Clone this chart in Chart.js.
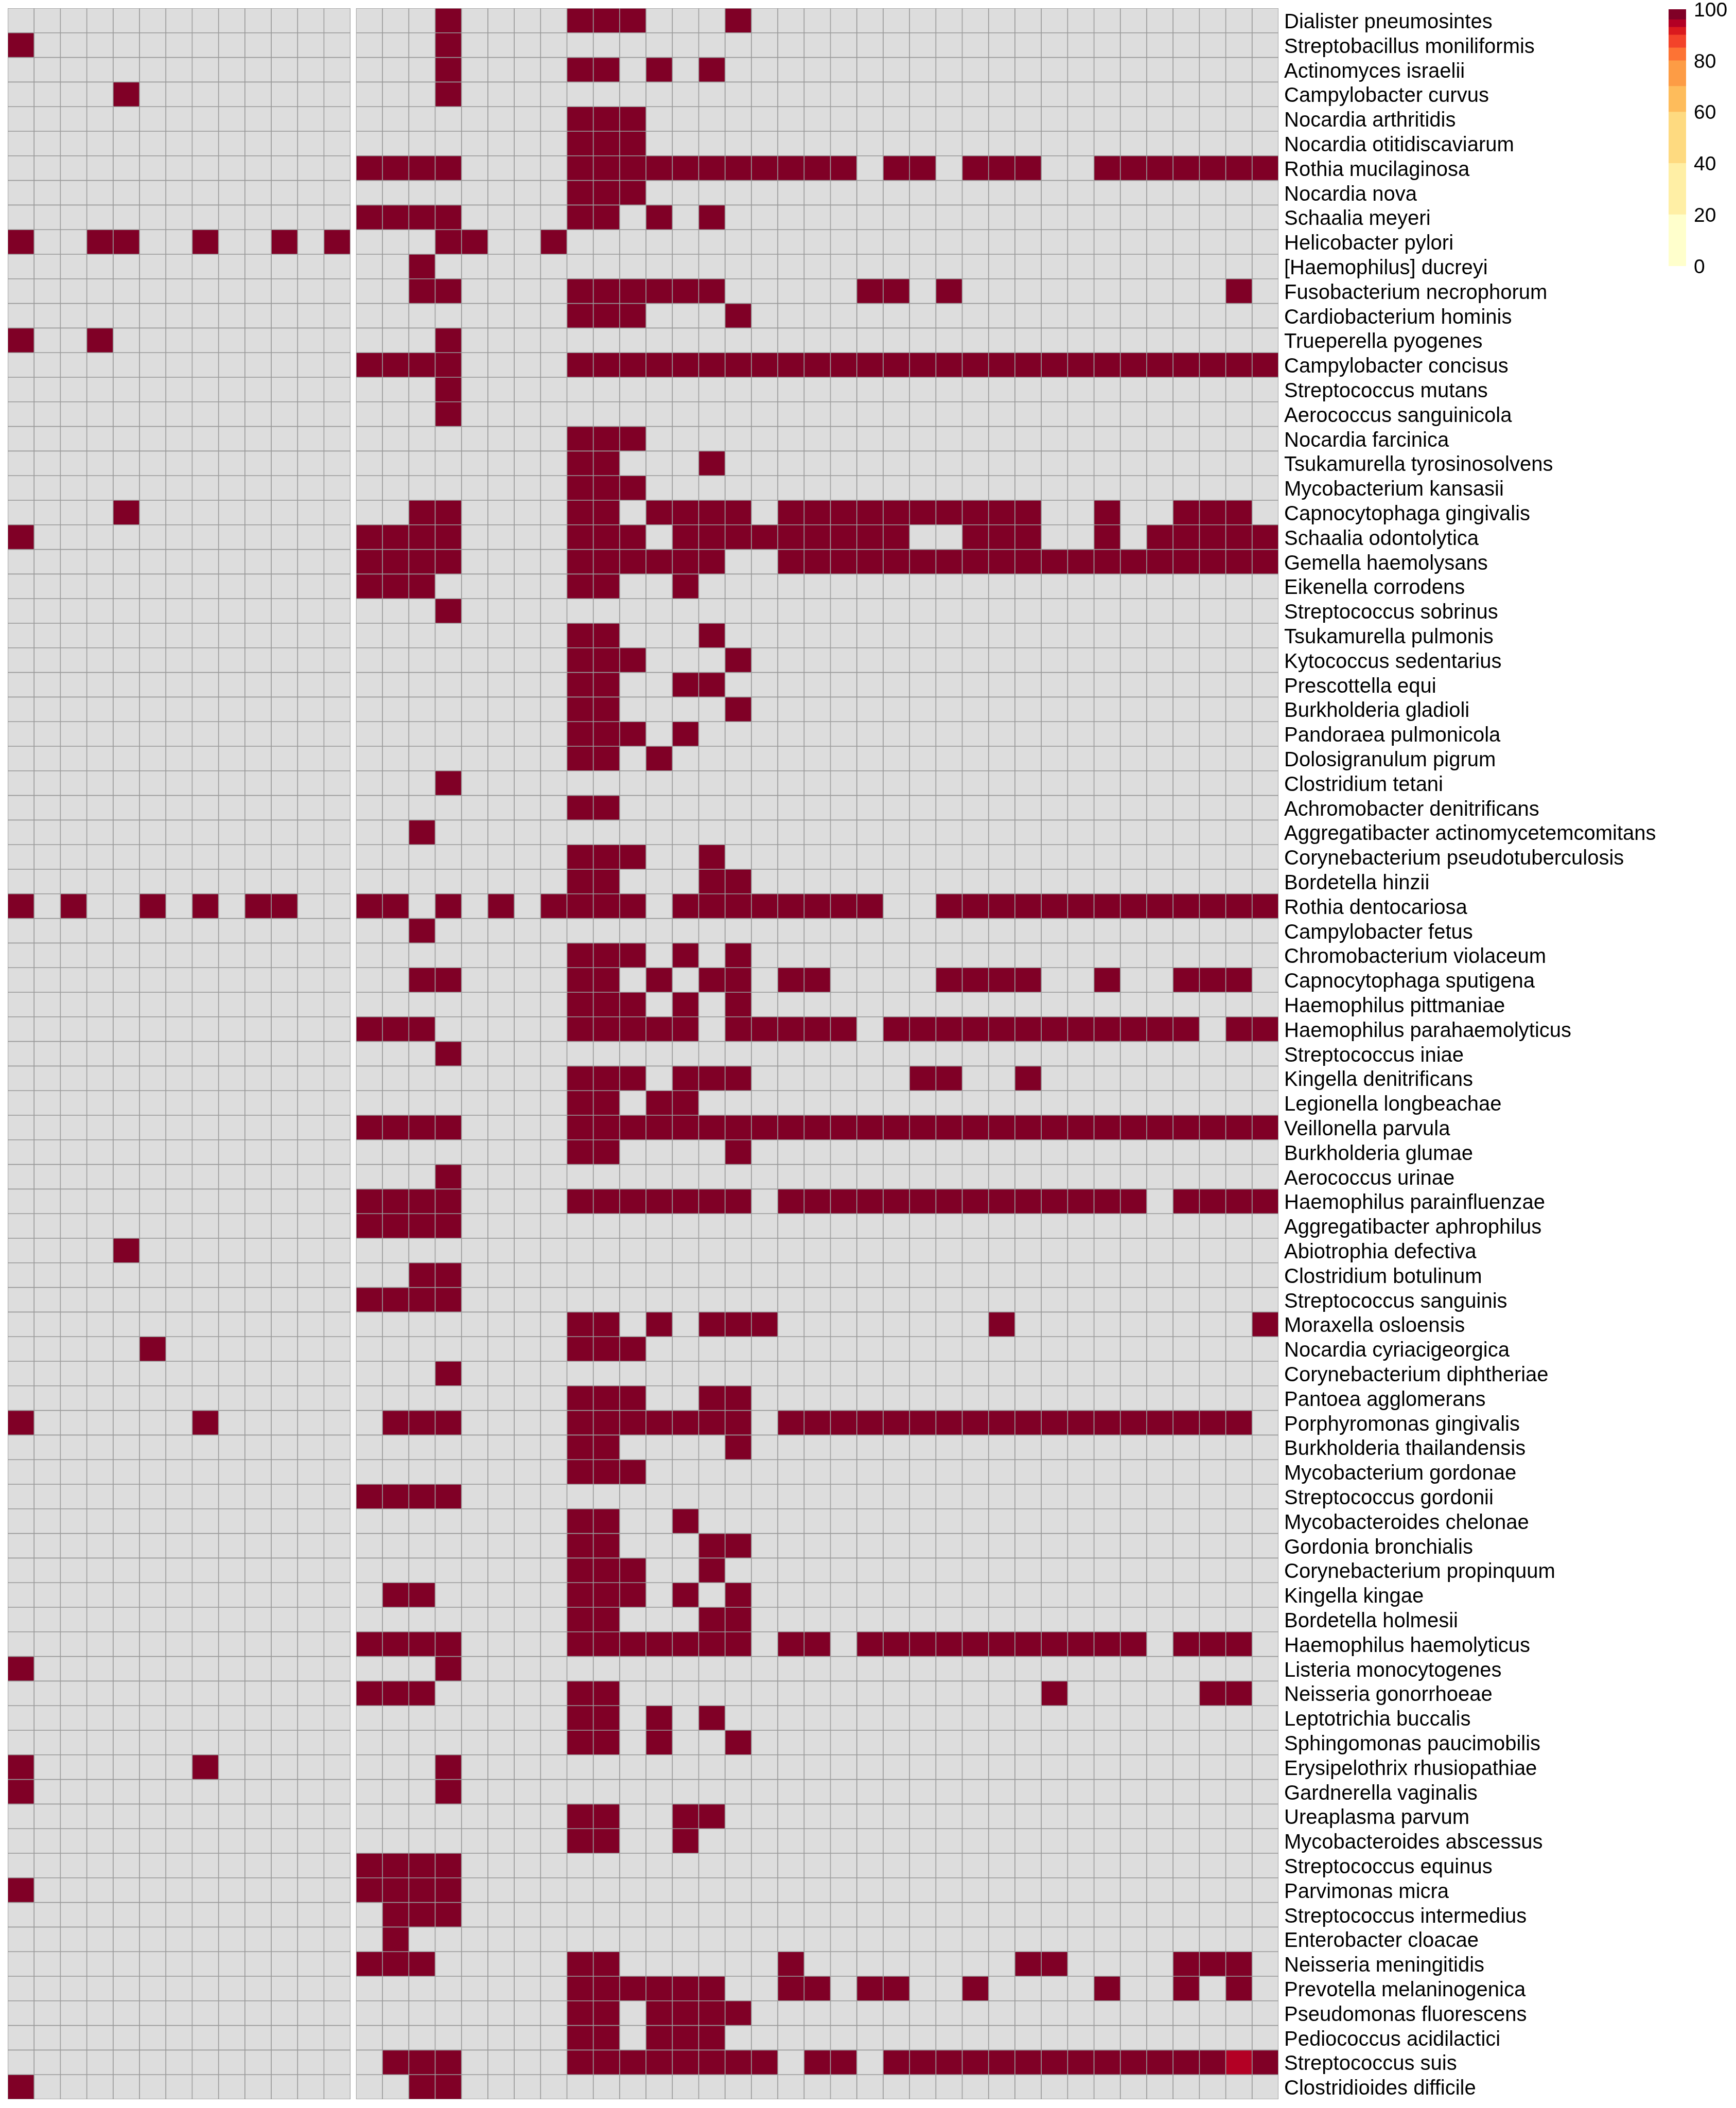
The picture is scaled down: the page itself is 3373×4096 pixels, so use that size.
<!DOCTYPE html>
<html>
<head>
<meta charset="utf-8">
<script src="https://cdn.jsdelivr.net/npm/chart.js@4.4.1/dist/chart.umd.min.js"></script>
<style>
  html, body { margin: 0; padding: 0; background: #ffffff; overflow: hidden; }
  #heat { position: absolute; left: 0; top: 0; }
  #scale { position: absolute; left: 3242px; top: -20px; }
</style>
</head>
<body>
<canvas id="heat" width="3373" height="4096"></canvas>
<canvas id="scale" width="131" height="580"></canvas>
<script>
// ---------------- DATA ----------------
const X = 100, R = 95, _ = null;

const speciesNames = [
  "Dialister pneumosintes", "Streptobacillus moniliformis", "Actinomyces israelii", "Campylobacter curvus",
  "Nocardia arthritidis", "Nocardia otitidiscaviarum", "Rothia mucilaginosa", "Nocardia nova",
  "Schaalia meyeri", "Helicobacter pylori", "[Haemophilus] ducreyi", "Fusobacterium necrophorum",
  "Cardiobacterium hominis", "Trueperella pyogenes", "Campylobacter concisus", "Streptococcus mutans",
  "Aerococcus sanguinicola", "Nocardia farcinica", "Tsukamurella tyrosinosolvens", "Mycobacterium kansasii",
  "Capnocytophaga gingivalis", "Schaalia odontolytica", "Gemella haemolysans", "Eikenella corrodens",
  "Streptococcus sobrinus", "Tsukamurella pulmonis", "Kytococcus sedentarius", "Prescottella equi",
  "Burkholderia gladioli", "Pandoraea pulmonicola", "Dolosigranulum pigrum", "Clostridium tetani",
  "Achromobacter denitrificans", "Aggregatibacter actinomycetemcomitans", "Corynebacterium pseudotuberculosis", "Bordetella hinzii",
  "Rothia dentocariosa", "Campylobacter fetus", "Chromobacterium violaceum", "Capnocytophaga sputigena",
  "Haemophilus pittmaniae", "Haemophilus parahaemolyticus", "Streptococcus iniae", "Kingella denitrificans",
  "Legionella longbeachae", "Veillonella parvula", "Burkholderia glumae", "Aerococcus urinae",
  "Haemophilus parainfluenzae", "Aggregatibacter aphrophilus", "Abiotrophia defectiva", "Clostridium botulinum",
  "Streptococcus sanguinis", "Moraxella osloensis", "Nocardia cyriacigeorgica", "Corynebacterium diphtheriae",
  "Pantoea agglomerans", "Porphyromonas gingivalis", "Burkholderia thailandensis", "Mycobacterium gordonae",
  "Streptococcus gordonii", "Mycobacteroides chelonae", "Gordonia bronchialis", "Corynebacterium propinquum",
  "Kingella kingae", "Bordetella holmesii", "Haemophilus haemolyticus", "Listeria monocytogenes",
  "Neisseria gonorrhoeae", "Leptotrichia buccalis", "Sphingomonas paucimobilis", "Erysipelothrix rhusiopathiae",
  "Gardnerella vaginalis", "Ureaplasma parvum", "Mycobacteroides abscessus", "Streptococcus equinus",
  "Parvimonas micra", "Streptococcus intermedius", "Enterobacter cloacae", "Neisseria meningitidis",
  "Prevotella melaninogenica", "Pseudomonas fluorescens", "Pediococcus acidilactici", "Streptococcus suis",
  "Clostridioides difficile"
];

// Left block: 13 columns per row
const leftPanel = [
  [_,_,_,_,_, _,_,_,_,_, _,_,_], // Dialister pneumosintes
  [X,_,_,_,_, _,_,_,_,_, _,_,_], // Streptobacillus moniliformis
  [_,_,_,_,_, _,_,_,_,_, _,_,_], // Actinomyces israelii
  [_,_,_,_,X, _,_,_,_,_, _,_,_], // Campylobacter curvus
  [_,_,_,_,_, _,_,_,_,_, _,_,_], // Nocardia arthritidis
  [_,_,_,_,_, _,_,_,_,_, _,_,_], // Nocardia otitidiscaviarum
  [_,_,_,_,_, _,_,_,_,_, _,_,_], // Rothia mucilaginosa
  [_,_,_,_,_, _,_,_,_,_, _,_,_], // Nocardia nova
  [_,_,_,_,_, _,_,_,_,_, _,_,_], // Schaalia meyeri
  [X,_,_,X,X, _,_,X,_,_, X,_,X], // Helicobacter pylori
  [_,_,_,_,_, _,_,_,_,_, _,_,_], // [Haemophilus] ducreyi
  [_,_,_,_,_, _,_,_,_,_, _,_,_], // Fusobacterium necrophorum
  [_,_,_,_,_, _,_,_,_,_, _,_,_], // Cardiobacterium hominis
  [X,_,_,X,_, _,_,_,_,_, _,_,_], // Trueperella pyogenes
  [_,_,_,_,_, _,_,_,_,_, _,_,_], // Campylobacter concisus
  [_,_,_,_,_, _,_,_,_,_, _,_,_], // Streptococcus mutans
  [_,_,_,_,_, _,_,_,_,_, _,_,_], // Aerococcus sanguinicola
  [_,_,_,_,_, _,_,_,_,_, _,_,_], // Nocardia farcinica
  [_,_,_,_,_, _,_,_,_,_, _,_,_], // Tsukamurella tyrosinosolvens
  [_,_,_,_,_, _,_,_,_,_, _,_,_], // Mycobacterium kansasii
  [_,_,_,_,X, _,_,_,_,_, _,_,_], // Capnocytophaga gingivalis
  [X,_,_,_,_, _,_,_,_,_, _,_,_], // Schaalia odontolytica
  [_,_,_,_,_, _,_,_,_,_, _,_,_], // Gemella haemolysans
  [_,_,_,_,_, _,_,_,_,_, _,_,_], // Eikenella corrodens
  [_,_,_,_,_, _,_,_,_,_, _,_,_], // Streptococcus sobrinus
  [_,_,_,_,_, _,_,_,_,_, _,_,_], // Tsukamurella pulmonis
  [_,_,_,_,_, _,_,_,_,_, _,_,_], // Kytococcus sedentarius
  [_,_,_,_,_, _,_,_,_,_, _,_,_], // Prescottella equi
  [_,_,_,_,_, _,_,_,_,_, _,_,_], // Burkholderia gladioli
  [_,_,_,_,_, _,_,_,_,_, _,_,_], // Pandoraea pulmonicola
  [_,_,_,_,_, _,_,_,_,_, _,_,_], // Dolosigranulum pigrum
  [_,_,_,_,_, _,_,_,_,_, _,_,_], // Clostridium tetani
  [_,_,_,_,_, _,_,_,_,_, _,_,_], // Achromobacter denitrificans
  [_,_,_,_,_, _,_,_,_,_, _,_,_], // Aggregatibacter actinomycetemcomitans
  [_,_,_,_,_, _,_,_,_,_, _,_,_], // Corynebacterium pseudotuberculosis
  [_,_,_,_,_, _,_,_,_,_, _,_,_], // Bordetella hinzii
  [X,_,X,_,_, X,_,X,_,X, X,_,_], // Rothia dentocariosa
  [_,_,_,_,_, _,_,_,_,_, _,_,_], // Campylobacter fetus
  [_,_,_,_,_, _,_,_,_,_, _,_,_], // Chromobacterium violaceum
  [_,_,_,_,_, _,_,_,_,_, _,_,_], // Capnocytophaga sputigena
  [_,_,_,_,_, _,_,_,_,_, _,_,_], // Haemophilus pittmaniae
  [_,_,_,_,_, _,_,_,_,_, _,_,_], // Haemophilus parahaemolyticus
  [_,_,_,_,_, _,_,_,_,_, _,_,_], // Streptococcus iniae
  [_,_,_,_,_, _,_,_,_,_, _,_,_], // Kingella denitrificans
  [_,_,_,_,_, _,_,_,_,_, _,_,_], // Legionella longbeachae
  [_,_,_,_,_, _,_,_,_,_, _,_,_], // Veillonella parvula
  [_,_,_,_,_, _,_,_,_,_, _,_,_], // Burkholderia glumae
  [_,_,_,_,_, _,_,_,_,_, _,_,_], // Aerococcus urinae
  [_,_,_,_,_, _,_,_,_,_, _,_,_], // Haemophilus parainfluenzae
  [_,_,_,_,_, _,_,_,_,_, _,_,_], // Aggregatibacter aphrophilus
  [_,_,_,_,X, _,_,_,_,_, _,_,_], // Abiotrophia defectiva
  [_,_,_,_,_, _,_,_,_,_, _,_,_], // Clostridium botulinum
  [_,_,_,_,_, _,_,_,_,_, _,_,_], // Streptococcus sanguinis
  [_,_,_,_,_, _,_,_,_,_, _,_,_], // Moraxella osloensis
  [_,_,_,_,_, X,_,_,_,_, _,_,_], // Nocardia cyriacigeorgica
  [_,_,_,_,_, _,_,_,_,_, _,_,_], // Corynebacterium diphtheriae
  [_,_,_,_,_, _,_,_,_,_, _,_,_], // Pantoea agglomerans
  [X,_,_,_,_, _,_,X,_,_, _,_,_], // Porphyromonas gingivalis
  [_,_,_,_,_, _,_,_,_,_, _,_,_], // Burkholderia thailandensis
  [_,_,_,_,_, _,_,_,_,_, _,_,_], // Mycobacterium gordonae
  [_,_,_,_,_, _,_,_,_,_, _,_,_], // Streptococcus gordonii
  [_,_,_,_,_, _,_,_,_,_, _,_,_], // Mycobacteroides chelonae
  [_,_,_,_,_, _,_,_,_,_, _,_,_], // Gordonia bronchialis
  [_,_,_,_,_, _,_,_,_,_, _,_,_], // Corynebacterium propinquum
  [_,_,_,_,_, _,_,_,_,_, _,_,_], // Kingella kingae
  [_,_,_,_,_, _,_,_,_,_, _,_,_], // Bordetella holmesii
  [_,_,_,_,_, _,_,_,_,_, _,_,_], // Haemophilus haemolyticus
  [X,_,_,_,_, _,_,_,_,_, _,_,_], // Listeria monocytogenes
  [_,_,_,_,_, _,_,_,_,_, _,_,_], // Neisseria gonorrhoeae
  [_,_,_,_,_, _,_,_,_,_, _,_,_], // Leptotrichia buccalis
  [_,_,_,_,_, _,_,_,_,_, _,_,_], // Sphingomonas paucimobilis
  [X,_,_,_,_, _,_,X,_,_, _,_,_], // Erysipelothrix rhusiopathiae
  [X,_,_,_,_, _,_,_,_,_, _,_,_], // Gardnerella vaginalis
  [_,_,_,_,_, _,_,_,_,_, _,_,_], // Ureaplasma parvum
  [_,_,_,_,_, _,_,_,_,_, _,_,_], // Mycobacteroides abscessus
  [_,_,_,_,_, _,_,_,_,_, _,_,_], // Streptococcus equinus
  [X,_,_,_,_, _,_,_,_,_, _,_,_], // Parvimonas micra
  [_,_,_,_,_, _,_,_,_,_, _,_,_], // Streptococcus intermedius
  [_,_,_,_,_, _,_,_,_,_, _,_,_], // Enterobacter cloacae
  [_,_,_,_,_, _,_,_,_,_, _,_,_], // Neisseria meningitidis
  [_,_,_,_,_, _,_,_,_,_, _,_,_], // Prevotella melaninogenica
  [_,_,_,_,_, _,_,_,_,_, _,_,_], // Pseudomonas fluorescens
  [_,_,_,_,_, _,_,_,_,_, _,_,_], // Pediococcus acidilactici
  [_,_,_,_,_, _,_,_,_,_, _,_,_], // Streptococcus suis
  [X,_,_,_,_, _,_,_,_,_, _,_,_]  // Clostridioides difficile
];

// Right block: 35 columns per row
const rightPanel = [
  [_,_,_,X,_, _,_,_,X,X, X,_,_,_,X, _,_,_,_,_, _,_,_,_,_, _,_,_,_,_, _,_,_,_,_], // Dialister pneumosintes
  [_,_,_,X,_, _,_,_,_,_, _,_,_,_,_, _,_,_,_,_, _,_,_,_,_, _,_,_,_,_, _,_,_,_,_], // Streptobacillus moniliformis
  [_,_,_,X,_, _,_,_,X,X, _,X,_,X,_, _,_,_,_,_, _,_,_,_,_, _,_,_,_,_, _,_,_,_,_], // Actinomyces israelii
  [_,_,_,X,_, _,_,_,_,_, _,_,_,_,_, _,_,_,_,_, _,_,_,_,_, _,_,_,_,_, _,_,_,_,_], // Campylobacter curvus
  [_,_,_,_,_, _,_,_,X,X, X,_,_,_,_, _,_,_,_,_, _,_,_,_,_, _,_,_,_,_, _,_,_,_,_], // Nocardia arthritidis
  [_,_,_,_,_, _,_,_,X,X, X,_,_,_,_, _,_,_,_,_, _,_,_,_,_, _,_,_,_,_, _,_,_,_,_], // Nocardia otitidiscaviarum
  [X,X,X,X,_, _,_,_,X,X, X,X,X,X,X, X,X,X,X,_, X,X,_,X,X, X,_,_,X,X, X,X,X,X,X], // Rothia mucilaginosa
  [_,_,_,_,_, _,_,_,X,X, X,_,_,_,_, _,_,_,_,_, _,_,_,_,_, _,_,_,_,_, _,_,_,_,_], // Nocardia nova
  [X,X,X,X,_, _,_,_,X,X, _,X,_,X,_, _,_,_,_,_, _,_,_,_,_, _,_,_,_,_, _,_,_,_,_], // Schaalia meyeri
  [_,_,_,X,X, _,_,X,_,_, _,_,_,_,_, _,_,_,_,_, _,_,_,_,_, _,_,_,_,_, _,_,_,_,_], // Helicobacter pylori
  [_,_,X,_,_, _,_,_,_,_, _,_,_,_,_, _,_,_,_,_, _,_,_,_,_, _,_,_,_,_, _,_,_,_,_], // [Haemophilus] ducreyi
  [_,_,X,X,_, _,_,_,X,X, X,X,X,X,_, _,_,_,_,X, X,_,X,_,_, _,_,_,_,_, _,_,_,X,_], // Fusobacterium necrophorum
  [_,_,_,_,_, _,_,_,X,X, X,_,_,_,X, _,_,_,_,_, _,_,_,_,_, _,_,_,_,_, _,_,_,_,_], // Cardiobacterium hominis
  [_,_,_,X,_, _,_,_,_,_, _,_,_,_,_, _,_,_,_,_, _,_,_,_,_, _,_,_,_,_, _,_,_,_,_], // Trueperella pyogenes
  [X,X,X,X,_, _,_,_,X,X, X,X,X,X,X, X,X,X,X,X, X,X,X,X,X, X,X,X,X,X, X,X,X,X,X], // Campylobacter concisus
  [_,_,_,X,_, _,_,_,_,_, _,_,_,_,_, _,_,_,_,_, _,_,_,_,_, _,_,_,_,_, _,_,_,_,_], // Streptococcus mutans
  [_,_,_,X,_, _,_,_,_,_, _,_,_,_,_, _,_,_,_,_, _,_,_,_,_, _,_,_,_,_, _,_,_,_,_], // Aerococcus sanguinicola
  [_,_,_,_,_, _,_,_,X,X, X,_,_,_,_, _,_,_,_,_, _,_,_,_,_, _,_,_,_,_, _,_,_,_,_], // Nocardia farcinica
  [_,_,_,_,_, _,_,_,X,X, _,_,_,X,_, _,_,_,_,_, _,_,_,_,_, _,_,_,_,_, _,_,_,_,_], // Tsukamurella tyrosinosolvens
  [_,_,_,_,_, _,_,_,X,X, X,_,_,_,_, _,_,_,_,_, _,_,_,_,_, _,_,_,_,_, _,_,_,_,_], // Mycobacterium kansasii
  [_,_,X,X,_, _,_,_,X,X, _,X,X,X,X, _,X,X,X,X, X,X,X,X,X, X,_,_,X,_, _,X,X,X,_], // Capnocytophaga gingivalis
  [X,X,X,X,_, _,_,_,X,X, X,_,X,X,X, X,X,X,X,X, X,_,_,X,X, X,_,_,X,_, X,X,X,X,X], // Schaalia odontolytica
  [X,X,X,X,_, _,_,_,X,X, X,X,X,X,_, _,X,X,X,X, X,X,X,X,X, X,X,X,X,X, X,X,X,X,X], // Gemella haemolysans
  [X,X,X,_,_, _,_,_,X,X, _,_,X,_,_, _,_,_,_,_, _,_,_,_,_, _,_,_,_,_, _,_,_,_,_], // Eikenella corrodens
  [_,_,_,X,_, _,_,_,_,_, _,_,_,_,_, _,_,_,_,_, _,_,_,_,_, _,_,_,_,_, _,_,_,_,_], // Streptococcus sobrinus
  [_,_,_,_,_, _,_,_,X,X, _,_,_,X,_, _,_,_,_,_, _,_,_,_,_, _,_,_,_,_, _,_,_,_,_], // Tsukamurella pulmonis
  [_,_,_,_,_, _,_,_,X,X, X,_,_,_,X, _,_,_,_,_, _,_,_,_,_, _,_,_,_,_, _,_,_,_,_], // Kytococcus sedentarius
  [_,_,_,_,_, _,_,_,X,X, _,_,X,X,_, _,_,_,_,_, _,_,_,_,_, _,_,_,_,_, _,_,_,_,_], // Prescottella equi
  [_,_,_,_,_, _,_,_,X,X, _,_,_,_,X, _,_,_,_,_, _,_,_,_,_, _,_,_,_,_, _,_,_,_,_], // Burkholderia gladioli
  [_,_,_,_,_, _,_,_,X,X, X,_,X,_,_, _,_,_,_,_, _,_,_,_,_, _,_,_,_,_, _,_,_,_,_], // Pandoraea pulmonicola
  [_,_,_,_,_, _,_,_,X,X, _,X,_,_,_, _,_,_,_,_, _,_,_,_,_, _,_,_,_,_, _,_,_,_,_], // Dolosigranulum pigrum
  [_,_,_,X,_, _,_,_,_,_, _,_,_,_,_, _,_,_,_,_, _,_,_,_,_, _,_,_,_,_, _,_,_,_,_], // Clostridium tetani
  [_,_,_,_,_, _,_,_,X,X, _,_,_,_,_, _,_,_,_,_, _,_,_,_,_, _,_,_,_,_, _,_,_,_,_], // Achromobacter denitrificans
  [_,_,X,_,_, _,_,_,_,_, _,_,_,_,_, _,_,_,_,_, _,_,_,_,_, _,_,_,_,_, _,_,_,_,_], // Aggregatibacter actinomycetemcomitans
  [_,_,_,_,_, _,_,_,X,X, X,_,_,X,_, _,_,_,_,_, _,_,_,_,_, _,_,_,_,_, _,_,_,_,_], // Corynebacterium pseudotuberculosis
  [_,_,_,_,_, _,_,_,X,X, _,_,_,X,X, _,_,_,_,_, _,_,_,_,_, _,_,_,_,_, _,_,_,_,_], // Bordetella hinzii
  [X,X,_,X,_, X,_,X,X,X, X,_,X,X,X, X,X,X,X,X, _,_,X,X,X, X,X,X,X,X, X,X,X,X,X], // Rothia dentocariosa
  [_,_,X,_,_, _,_,_,_,_, _,_,_,_,_, _,_,_,_,_, _,_,_,_,_, _,_,_,_,_, _,_,_,_,_], // Campylobacter fetus
  [_,_,_,_,_, _,_,_,X,X, X,_,X,_,X, _,_,_,_,_, _,_,_,_,_, _,_,_,_,_, _,_,_,_,_], // Chromobacterium violaceum
  [_,_,X,X,_, _,_,_,X,X, _,X,_,X,X, _,X,X,_,_, _,_,X,X,X, X,_,_,X,_, _,X,X,X,_], // Capnocytophaga sputigena
  [_,_,_,_,_, _,_,_,X,X, X,_,X,_,X, _,_,_,_,_, _,_,_,_,_, _,_,_,_,_, _,_,_,_,_], // Haemophilus pittmaniae
  [X,X,X,_,_, _,_,_,X,X, X,X,X,_,X, X,X,X,X,_, X,X,X,X,X, X,X,X,X,X, X,X,_,X,X], // Haemophilus parahaemolyticus
  [_,_,_,X,_, _,_,_,_,_, _,_,_,_,_, _,_,_,_,_, _,_,_,_,_, _,_,_,_,_, _,_,_,_,_], // Streptococcus iniae
  [_,_,_,_,_, _,_,_,X,X, X,_,X,X,X, _,_,_,_,_, _,X,X,_,_, X,_,_,_,_, _,_,_,_,_], // Kingella denitrificans
  [_,_,_,_,_, _,_,_,X,X, _,X,X,_,_, _,_,_,_,_, _,_,_,_,_, _,_,_,_,_, _,_,_,_,_], // Legionella longbeachae
  [X,X,X,X,_, _,_,_,X,X, X,X,X,X,X, X,X,X,X,X, X,X,X,X,X, X,X,X,X,X, X,X,X,X,X], // Veillonella parvula
  [_,_,_,_,_, _,_,_,X,X, _,_,_,_,X, _,_,_,_,_, _,_,_,_,_, _,_,_,_,_, _,_,_,_,_], // Burkholderia glumae
  [_,_,_,X,_, _,_,_,_,_, _,_,_,_,_, _,_,_,_,_, _,_,_,_,_, _,_,_,_,_, _,_,_,_,_], // Aerococcus urinae
  [X,X,X,X,_, _,_,_,X,X, X,X,X,X,X, _,X,X,X,X, X,X,X,X,X, X,X,X,X,X, _,X,X,X,X], // Haemophilus parainfluenzae
  [X,X,X,X,_, _,_,_,_,_, _,_,_,_,_, _,_,_,_,_, _,_,_,_,_, _,_,_,_,_, _,_,_,_,_], // Aggregatibacter aphrophilus
  [_,_,_,_,_, _,_,_,_,_, _,_,_,_,_, _,_,_,_,_, _,_,_,_,_, _,_,_,_,_, _,_,_,_,_], // Abiotrophia defectiva
  [_,_,X,X,_, _,_,_,_,_, _,_,_,_,_, _,_,_,_,_, _,_,_,_,_, _,_,_,_,_, _,_,_,_,_], // Clostridium botulinum
  [X,X,X,X,_, _,_,_,_,_, _,_,_,_,_, _,_,_,_,_, _,_,_,_,_, _,_,_,_,_, _,_,_,_,_], // Streptococcus sanguinis
  [_,_,_,_,_, _,_,_,X,X, _,X,_,X,X, X,_,_,_,_, _,_,_,_,X, _,_,_,_,_, _,_,_,_,X], // Moraxella osloensis
  [_,_,_,_,_, _,_,_,X,X, X,_,_,_,_, _,_,_,_,_, _,_,_,_,_, _,_,_,_,_, _,_,_,_,_], // Nocardia cyriacigeorgica
  [_,_,_,X,_, _,_,_,_,_, _,_,_,_,_, _,_,_,_,_, _,_,_,_,_, _,_,_,_,_, _,_,_,_,_], // Corynebacterium diphtheriae
  [_,_,_,_,_, _,_,_,X,X, X,_,_,X,X, _,_,_,_,_, _,_,_,_,_, _,_,_,_,_, _,_,_,_,_], // Pantoea agglomerans
  [_,X,X,X,_, _,_,_,X,X, X,X,X,X,X, _,X,X,X,X, X,X,X,X,X, X,X,X,X,X, X,X,X,X,_], // Porphyromonas gingivalis
  [_,_,_,_,_, _,_,_,X,X, _,_,_,_,X, _,_,_,_,_, _,_,_,_,_, _,_,_,_,_, _,_,_,_,_], // Burkholderia thailandensis
  [_,_,_,_,_, _,_,_,X,X, X,_,_,_,_, _,_,_,_,_, _,_,_,_,_, _,_,_,_,_, _,_,_,_,_], // Mycobacterium gordonae
  [X,X,X,X,_, _,_,_,_,_, _,_,_,_,_, _,_,_,_,_, _,_,_,_,_, _,_,_,_,_, _,_,_,_,_], // Streptococcus gordonii
  [_,_,_,_,_, _,_,_,X,X, _,_,X,_,_, _,_,_,_,_, _,_,_,_,_, _,_,_,_,_, _,_,_,_,_], // Mycobacteroides chelonae
  [_,_,_,_,_, _,_,_,X,X, _,_,_,X,X, _,_,_,_,_, _,_,_,_,_, _,_,_,_,_, _,_,_,_,_], // Gordonia bronchialis
  [_,_,_,_,_, _,_,_,X,X, X,_,_,X,_, _,_,_,_,_, _,_,_,_,_, _,_,_,_,_, _,_,_,_,_], // Corynebacterium propinquum
  [_,X,X,_,_, _,_,_,X,X, X,_,X,_,X, _,_,_,_,_, _,_,_,_,_, _,_,_,_,_, _,_,_,_,_], // Kingella kingae
  [_,_,_,_,_, _,_,_,X,X, _,_,_,X,X, _,_,_,_,_, _,_,_,_,_, _,_,_,_,_, _,_,_,_,_], // Bordetella holmesii
  [X,X,X,X,_, _,_,_,X,X, X,X,X,X,X, _,X,X,_,X, X,X,X,X,X, X,X,X,X,X, _,X,X,X,_], // Haemophilus haemolyticus
  [_,_,_,X,_, _,_,_,_,_, _,_,_,_,_, _,_,_,_,_, _,_,_,_,_, _,_,_,_,_, _,_,_,_,_], // Listeria monocytogenes
  [X,X,X,_,_, _,_,_,X,X, _,_,_,_,_, _,_,_,_,_, _,_,_,_,_, _,X,_,_,_, _,_,X,X,_], // Neisseria gonorrhoeae
  [_,_,_,_,_, _,_,_,X,X, _,X,_,X,_, _,_,_,_,_, _,_,_,_,_, _,_,_,_,_, _,_,_,_,_], // Leptotrichia buccalis
  [_,_,_,_,_, _,_,_,X,X, _,X,_,_,X, _,_,_,_,_, _,_,_,_,_, _,_,_,_,_, _,_,_,_,_], // Sphingomonas paucimobilis
  [_,_,_,X,_, _,_,_,_,_, _,_,_,_,_, _,_,_,_,_, _,_,_,_,_, _,_,_,_,_, _,_,_,_,_], // Erysipelothrix rhusiopathiae
  [_,_,_,X,_, _,_,_,_,_, _,_,_,_,_, _,_,_,_,_, _,_,_,_,_, _,_,_,_,_, _,_,_,_,_], // Gardnerella vaginalis
  [_,_,_,_,_, _,_,_,X,X, _,_,X,X,_, _,_,_,_,_, _,_,_,_,_, _,_,_,_,_, _,_,_,_,_], // Ureaplasma parvum
  [_,_,_,_,_, _,_,_,X,X, _,_,X,_,_, _,_,_,_,_, _,_,_,_,_, _,_,_,_,_, _,_,_,_,_], // Mycobacteroides abscessus
  [X,X,X,X,_, _,_,_,_,_, _,_,_,_,_, _,_,_,_,_, _,_,_,_,_, _,_,_,_,_, _,_,_,_,_], // Streptococcus equinus
  [X,X,X,X,_, _,_,_,_,_, _,_,_,_,_, _,_,_,_,_, _,_,_,_,_, _,_,_,_,_, _,_,_,_,_], // Parvimonas micra
  [_,X,X,X,_, _,_,_,_,_, _,_,_,_,_, _,_,_,_,_, _,_,_,_,_, _,_,_,_,_, _,_,_,_,_], // Streptococcus intermedius
  [_,X,_,_,_, _,_,_,_,_, _,_,_,_,_, _,_,_,_,_, _,_,_,_,_, _,_,_,_,_, _,_,_,_,_], // Enterobacter cloacae
  [X,X,X,_,_, _,_,_,X,X, _,_,_,_,_, _,X,_,_,_, _,_,_,_,_, X,X,_,_,_, _,X,X,X,_], // Neisseria meningitidis
  [_,_,_,_,_, _,_,_,X,X, X,X,X,X,_, _,X,X,_,X, X,_,_,X,_, _,_,_,X,_, _,X,_,X,_], // Prevotella melaninogenica
  [_,_,_,_,_, _,_,_,X,X, _,X,X,X,X, _,_,_,_,_, _,_,_,_,_, _,_,_,_,_, _,_,_,_,_], // Pseudomonas fluorescens
  [_,_,_,_,_, _,_,_,X,X, _,X,X,X,_, _,_,_,_,_, _,_,_,_,_, _,_,_,_,_, _,_,_,_,_], // Pediococcus acidilactici
  [_,X,X,X,_, _,_,_,X,X, X,X,X,X,X, X,_,X,X,_, X,X,X,X,X, X,X,X,X,X, X,X,X,R,X], // Streptococcus suis
  [_,_,X,X,_, _,_,_,_,_, _,_,_,_,_, _,_,_,_,_, _,_,_,_,_, _,_,_,_,_, _,_,_,_,_]  // Clostridioides difficile
];

// Colour key (binned scale)
const legendBreaks = [0, 20, 40, 60, 70, 80, 85, 90, 93, 96, 100];
const legendColors = ['#FFFFCC', '#FFEFA5', '#FEDA80', '#FEBC5B', '#FD9C45', '#FD7334', '#F3432A', '#DA1A1E', '#B30024', '#800026'];
const legendTicks = [0, 20, 40, 60, 80, 100];
const naColor = '#DDDDDD';

// ---------------- CHART ----------------
const FONT = "'Liberation Sans', Arial, Helvetica, sans-serif";
const S = 0.803;

function colorFor(v) {
  if (v === null || v === undefined) return naColor;
  for (let k = legendColors.length - 1; k >= 0; k--) {
    if (v >= legendBreaks[k]) return legendColors[k];
  }
  return legendColors[0];
}

const leftCount = leftPanel[0].length;    // 13
const rightCount = rightPanel[0].length;  // 35
const panelGap = 0.22;                    // gap between the two blocks, in cell units
const totalCols = leftCount + rightCount;

const datasets = [];
for (let c = 0; c < totalCols; c++) {
  const inLeft = c < leftCount;
  const start = inLeft ? c : c + panelGap;
  const vals = speciesNames.map((_n, r) => inLeft ? leftPanel[r][c] : rightPanel[r][c - leftCount]);
  datasets.push({
    data: vals.map(() => [start, start + 1]),
    backgroundColor: vals.map(colorFor),
    borderColor: '#999999',
    borderWidth: 1.15,
    borderSkipped: false,
    grouped: false,
    barPercentage: 1,
    categoryPercentage: 1
  });
}

const W = 3373, H = 4096;
const areaLeft = Math.round(19 * S), areaRight = Math.round(3093 * S);
const areaTop = Math.round(20 * S), areaBottom = Math.round(5080 * S);

new Chart(document.getElementById('heat'), {
  type: 'bar',
  data: { labels: speciesNames, datasets },
  options: {
    indexAxis: 'y',
    responsive: false,
    animation: false,
    events: [],
    layout: { padding: { left: areaLeft, top: areaTop, bottom: H - areaBottom, right: 0 } },
    plugins: { legend: { display: false }, tooltip: { enabled: false } },
    scales: {
      x: { type: 'linear', min: 0, max: totalCols + panelGap, display: false },
      y: {
        type: 'category',
        position: 'right',
        offset: true,
        grid: { display: false, drawTicks: false },
        border: { display: false },
        ticks: {
          autoSkip: false,
          padding: Math.round(14 * S),
          labelOffset: 4,
          color: '#000000',
          font: { family: FONT, size: Math.round(50 * S) }
        },
        afterFit(scale) {
          scale.width = W - areaRight;
          scale.paddingTop = 0;
          scale.paddingBottom = 0;
        }
      }
    }
  }
});

// Colour key as a small chart
const keyTop = Math.round(23 * S) + 20, keyBottom = Math.round(644 * S) + 20, keyW = Math.round(42 * S);
const keyCanvasW = 131, keyCanvasH = 580;
new Chart(document.getElementById('scale'), {
  type: 'bar',
  data: {
    labels: ['key'],
    datasets: legendColors.map((col, k) => ({
      data: [[legendBreaks[k], legendBreaks[k + 1]]],
      backgroundColor: col,
      borderWidth: 0,
      grouped: false,
      barPercentage: 1,
      categoryPercentage: 1
    }))
  },
  options: {
    responsive: false,
    animation: false,
    events: [],
    layout: { padding: { left: 0, top: keyTop, bottom: keyCanvasH - keyBottom, right: 0 } },
    plugins: { legend: { display: false }, tooltip: { enabled: false } },
    scales: {
      x: { display: false },
      y: {
        type: 'linear', min: 0, max: 100, position: 'right',
        grid: { display: false, drawTicks: false },
        border: { display: false },
        afterBuildTicks(scale) { scale.ticks = legendTicks.map(v => ({ value: v })); },
        ticks: {
          padding: Math.round(19 * S),
          labelOffset: 3,
          color: '#000000',
          font: { family: FONT, size: Math.round(48 * S) }
        },
        afterFit(scale) {
          scale.width = keyCanvasW - keyW;
          scale.paddingTop = 0;
          scale.paddingBottom = 0;
        }
      }
    }
  }
});
</script>
</body>
</html>
